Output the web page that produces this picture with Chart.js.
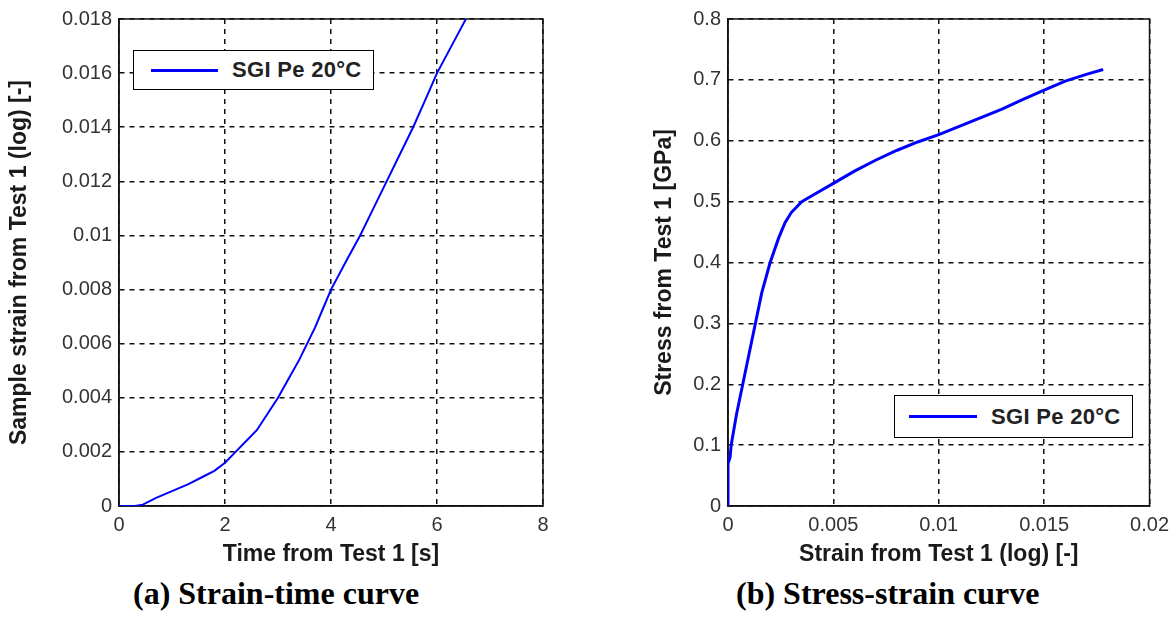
<!DOCTYPE html>
<html>
<head>
<meta charset="utf-8">
<script src="https://cdn.jsdelivr.net/npm/chart.js@4.4.1/dist/chart.umd.min.js"></script>
<style>
  html, body { margin: 0; padding: 0; background: #fff; }
  body { width: 1176px; height: 636px; position: relative; overflow: hidden; }
  .box { position: absolute; top: 0; height: 568px; }
  #boxA { left: 0; width: 580px; }
  #boxB { left: 600px; width: 576px; }
  .legend {
    position: absolute; background: #fff; border: 1.5px solid #000; box-sizing: border-box;
    font: bold 22px 'Liberation Sans', Arial, sans-serif; letter-spacing: 0.3px; color: #222;
  }
  .legend .swatch { position: absolute; top: 50%; height: 3px; margin-top: -1.5px; background: #0000ff; }
  .legend .txt { position: absolute; top: 50%; transform: translateY(-50%); white-space: nowrap; }
  .caption {
    position: absolute; top: 575px; white-space: nowrap;
    font: bold 32px 'Liberation Serif', 'Times New Roman', serif; color: #000;
  }
</style>
</head>
<body>
<div class="box" id="boxA"><canvas id="chartA" width="580" height="568"></canvas></div>
<div class="box" id="boxB"><canvas id="chartB" width="576" height="568"></canvas></div>

<div class="legend" style="left:133px; top:50px; width:241px; height:40px;">
  <span class="swatch" style="left:17px; width:67px;"></span>
  <span class="txt" style="left:98px;">SGI Pe 20°C</span>
</div>
<div class="legend" style="left:894px; top:395px; width:239px; height:43px;">
  <span class="swatch" style="left:14px; width:68px;"></span>
  <span class="txt" style="left:96px;">SGI Pe 20°C</span>
</div>

<div class="caption" style="left:133px;">(a) Strain-time curve</div>
<div class="caption" style="left:736px;">(b) Stress-strain curve</div>

<script>
// (a) strain vs time
const timeS   = [0, 0.3, 0.45, 0.7, 1.0, 1.3, 1.6, 1.8, 2.0, 2.2, 2.4, 2.6, 2.8, 3.0, 3.2, 3.4, 3.55, 3.7, 3.85, 4.0, 4.3, 4.55, 4.8, 5.05, 5.3, 5.55, 5.8, 6.0, 6.3, 6.6];
const strainA = [0, 0, 0.00005, 0.0003, 0.00055, 0.0008, 0.0011, 0.0013, 0.0016, 0.002, 0.0024, 0.0028, 0.0034, 0.004, 0.0047, 0.0054, 0.006, 0.0066, 0.0073, 0.008, 0.0091, 0.01, 0.011, 0.012, 0.013, 0.014, 0.0151, 0.016, 0.0171, 0.0182];

// (b) stress vs strain
const strainB = [0, 0, 0.0001, 0.00015, 0.0004, 0.0007, 0.001, 0.0013, 0.0016, 0.002, 0.0024, 0.0027, 0.003, 0.0035, 0.004, 0.005, 0.006, 0.007, 0.008, 0.009, 0.01, 0.011, 0.012, 0.013, 0.014, 0.015, 0.016, 0.017, 0.0178];
const stressB = [0, 0.07, 0.08, 0.1, 0.15, 0.2, 0.25, 0.3, 0.35, 0.4, 0.44, 0.465, 0.482, 0.5, 0.51, 0.53, 0.55, 0.568, 0.584, 0.598, 0.61, 0.624, 0.638, 0.652, 0.668, 0.683, 0.698, 0.709, 0.717];

// tick labels
const timeTicks     = [0, 2, 4, 6, 8];
const strainTicksA  = [0, 0.002, 0.004, 0.006, 0.008, 0.01, 0.012, 0.014, 0.016, 0.018];
const strainTicksB  = [0, 0.005, 0.01, 0.015, 0.02];
const stressTicks   = [0, 0.1, 0.2, 0.3, 0.4, 0.5, 0.6, 0.7, 0.8];

const tickFont  = { family: "'Liberation Sans', Arial, sans-serif", size: 20 };
const titleFont = { family: "'Liberation Sans', Arial, sans-serif", size: 23, weight: 'bold' };

// solid box round the plot area (MATLAB style)
const framePlugin = {
  id: 'frame',
  beforeDatasetsDraw(chart) {
    const { ctx, chartArea: a } = chart;
    ctx.save();
    ctx.strokeStyle = '#111';
    ctx.lineWidth = 1.5;
    ctx.setLineDash([]);
    ctx.strokeRect(a.left, a.top, a.right - a.left, a.bottom - a.top);
    ctx.restore();
  }
};

function axis(ticks, min, max, title, isX, size, titlePad) {
  return {
    type: 'linear',
    min: min, max: max,
    afterBuildTicks: s => { s.ticks = ticks.map(v => ({ value: v })); },
    afterFit: s => { if (isX) s.height = size; else s.width = size; },
    ticks: {
      font: tickFont, color: '#333', padding: isX ? 7 : 7,
      callback: v => String(Number(v.toFixed(4)))
    },
    grid: { color: '#111', lineWidth: 1.5, drawTicks: false },
    border: { display: true, color: '#111', width: 1.5, dash: [5, 5] },
    title: {
      display: true, text: title, font: titleFont, color: '#1a1a1a',
      padding: isX ? { top: 0, bottom: 0 } : { top: titlePad, bottom: 0 }
    }
  };
}

function makeChart(id, xs, ys, xAxis, yAxis, pad, lw) {
  new Chart(document.getElementById(id), {
    type: 'line',
    data: {
      datasets: [{
        label: 'SGI Pe 20°C',
        data: xs.map((x, i) => ({ x: x, y: ys[i] })),
        borderColor: '#0000ff',
        borderWidth: lw,
        pointRadius: 0,
        tension: 0,
        fill: false
      }]
    },
    options: {
      responsive: false,
      animation: false,
      layout: { padding: pad },
      plugins: { legend: { display: false }, tooltip: { enabled: false } },
      scales: { x: xAxis, y: yAxis }
    },
    plugins: [framePlugin]
  });
}

makeChart('chartA', timeS, strainA,
  axis(timeTicks, 0, 8, 'Time from Test 1 [s]', true, 62),
  axis(strainTicksA, 0, 0.018, 'Sample strain from Test 1 (log) [-]', false, 119, 6),
  { left: 0, right: 37, top: 14, bottom: 0 }, 2);

makeChart('chartB', strainB, stressB,
  axis(strainTicksB, 0, 0.02, 'Strain from Test 1 (log) [-]', true, 62),
  axis(stressTicks, 0, 0.8, 'Stress from Test 1 [GPa]', false, 128, 51),
  { left: 0, right: 25, top: 12, bottom: 0 }, 3);
</script>
</body>
</html>
